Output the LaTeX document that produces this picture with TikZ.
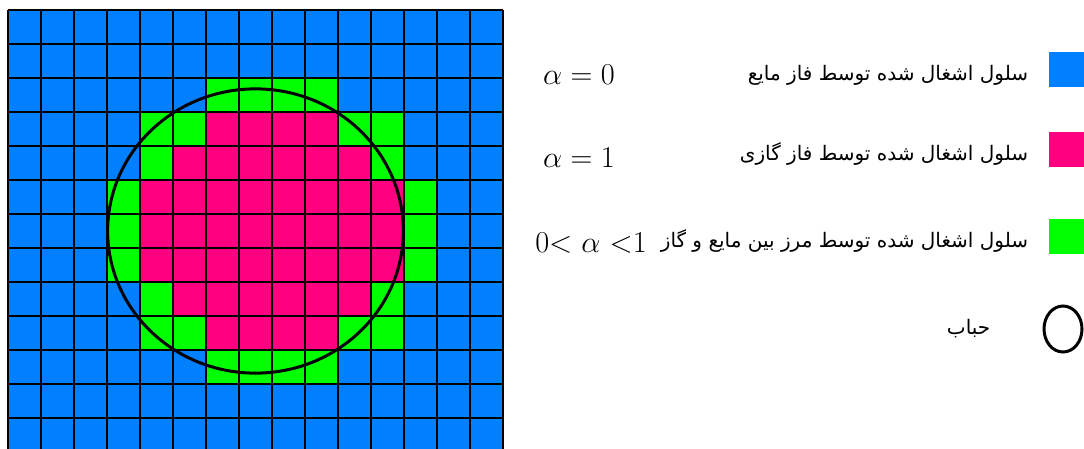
\documentclass[tikz,border=0pt]{standalone}
\usepackage{fontspec}
\newfontfamily\arabicfont[Script=Arabic]{DejaVu Sans}
\TeXXeTstate=1
\usetikzlibrary{positioning,shapes.geometric}
\definecolor{liquidblue}{HTML}{0080FF}
\definecolor{gaspink}{HTML}{FF0080}
\definecolor{mixgreen}{HTML}{00FF00}

\begin{document}
\begin{tikzpicture}[
        x=1pt, y=-1pt,
        every node/.style={inner sep=0pt},
        cellline/.style={draw=black, line width=2.6pt},
        key/.style={minimum width=35pt, minimum height=35pt},
        bubble/.style={draw=black, line width=3pt},
        fa/.style={font=\fontsize{20}{24}\arabicfont},
        eq/.style={font=\Huge, scale=1.22, transform shape, anchor=east}
      ]
        \useasboundingbox (0,0) rectangle (1084,448);
        % mesh of cells
        \begin{scope}
          \clip (0,0) rectangle (1084,448);
          \begin{scope}[shift={(8,10)}, x=33pt, y=-34pt]
            \fill[liquidblue] (0,0) rectangle (15,13);
            \foreach \r/\a/\b in {2/6/9, 3/4/11, 4/4/11, 5/3/12, 6/3/12, 7/3/12, 8/4/11, 9/4/11, 10/6/9}
              \fill[mixgreen] (\a,\r) rectangle (\b+1,\r+1);
            \foreach \r/\a/\b in {3/6/9, 4/5/10, 5/4/11, 6/4/11, 7/4/11, 8/5/10, 9/6/9}
              \fill[gaspink] (\a,\r) rectangle (\b+1,\r+1);
            \foreach \i in {0,...,15}
              \draw[cellline] (\i,0) -- (\i,13);
            \foreach \j in {0,...,13}
              \draw[cellline] (0,\j) -- (15,\j);
            \draw[line width=3pt] (7.5,6.5) ellipse [x radius=4.48, y radius=4.18];
          \end{scope}
        \end{scope}
        % legend
        \node[key, fill=liquidblue] (liquidkey) at (1066,69) {};
        \node[key, fill=gaspink, below=45pt of liquidkey] (gaskey) {};
        \node[key, fill=mixgreen, below=52pt of gaskey] (mixkey) {};
        \node[bubble, ellipse, minimum width=38pt, minimum height=46pt, below=50pt of mixkey, xshift=-3pt] (bubblekey) {};
        \node[fa, left=20pt of liquidkey, yshift=-6pt] (liquidtext) {\beginR سلول اشغال شده توسط فاز مایع\endR};
        \node[fa, left=20pt of gaskey, yshift=-5pt] (gastext) {\beginR سلول اشغال شده توسط فاز گازی\endR};
        \node[fa, left=20pt of mixkey, yshift=-4pt] (mixtext) {\beginR سلول اشغال شده توسط مرز بین مایع و گاز\endR};
        \node[fa, left=52pt of bubblekey] (bubbletext) {\beginR حباب\endR};
        \node[eq] (liquideq) at (615,75) {$\alpha = 0$};
        \node[eq] (gaseq) at (615,158) {$\alpha = 1$};
        \node[eq] (mixeq) at (647,243) {$0{<}\ \alpha\ {<}1$};
      \end{tikzpicture}
\end{document}
